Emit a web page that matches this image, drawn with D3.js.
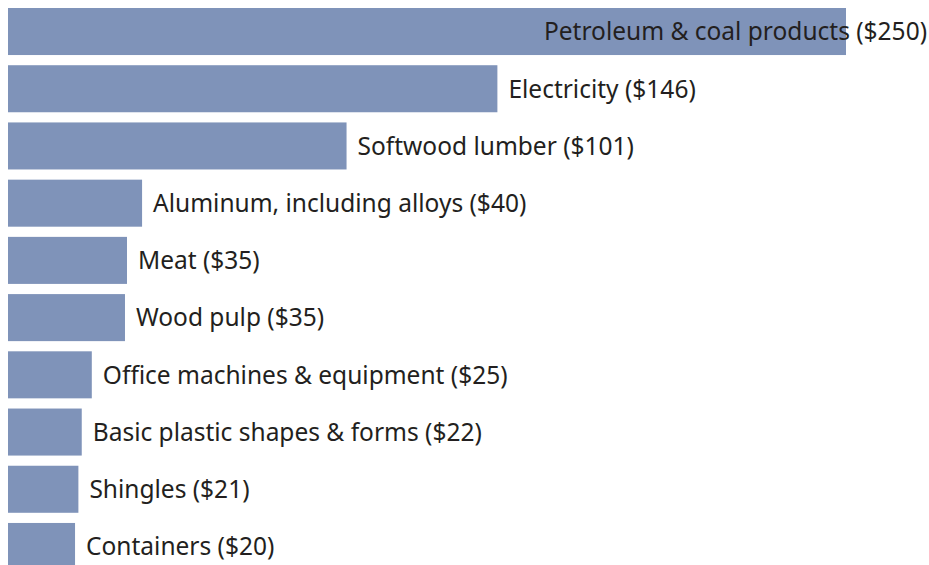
<!DOCTYPE html>
<html>
<head>
<meta charset="utf-8">
<script src="https://cdn.jsdelivr.net/npm/d3@7"></script>
<style>
  body { margin: 0; background: #fff; }
  svg text { font-family: 'Noto Sans', sans-serif; font-size: 24.5px; fill: #231f20; }
</style>
</head>
<body>
<svg id="chart"></svg>
<script>
// categories and values (billions of dollars)
const categories = [
  "Petroleum & coal products",
  "Electricity",
  "Softwood lumber",
  "Aluminum, including alloys",
  "Meat",
  "Wood pulp",
  "Office machines & equipment",
  "Basic plastic shapes & forms",
  "Shingles",
  "Containers"
];
const values = [250, 146, 101, 40, 35.5, 34.9, 25, 22, 21, 20];
const valueLabels = ["$250", "$146", "$101", "$40", "$35", "$35", "$25", "$22", "$21", "$20"];

const width = 929;
const height = 565;

const svg = d3.select("#chart")
    .attr("width", width)
    .attr("height", height);

const x = d3.scaleLinear()
    .domain([0, 250])
    .range([8, 846]);

const y = d3.scaleBand()
    .domain(categories)
    .range([8, 570])
    .paddingInner(0.178)
    .paddingOuter(0);

const rows = categories.map((c, i) => ({ name: c, value: values[i], label: valueLabels[i] }));

svg.selectAll("rect.bar")
    .data(rows)
    .join("rect")
    .attr("class", "bar")
    .attr("x", x(0))
    .attr("y", d => y(d.name))
    .attr("width", d => x(d.value) - x(0))
    .attr("height", y.bandwidth())
    .attr("fill", "#7f93b9");

svg.selectAll("text.label")
    .data(rows)
    .join("text")
    .attr("class", "label")
    .attr("y", d => y(d.name) + y.bandwidth() / 2)
    .attr("dy", "0.36em")
    .text(d => `${d.name} (${d.label})`)
    .each(function(d) {
      // push label left if it would run off the right edge
      const w = this.getComputedTextLength();
      let lx = x(d.value) + 11;
      if (lx + w > width - 2) lx = width - 2 - w;
      d3.select(this).attr("x", lx);
    });
</script>
</body>
</html>
